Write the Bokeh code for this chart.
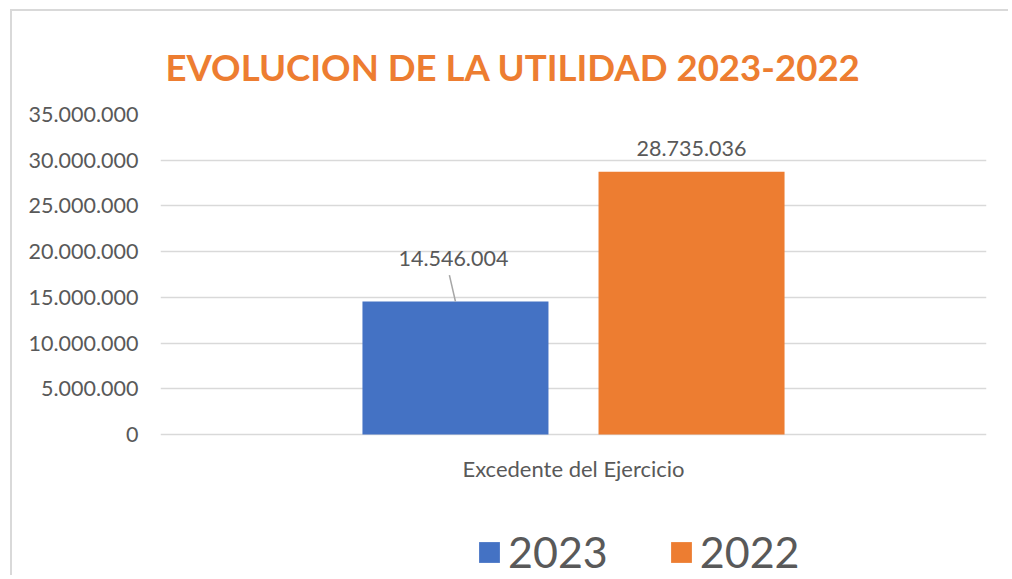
from bokeh.plotting import figure
from bokeh.models import (FactorRange, Range1d, FixedTicker, Legend, LegendItem,
                          ColumnDataSource, Title)
from bokeh.transform import dodge
from bokeh.core.properties import value
from bokeh.embed import file_html
from bokeh.resources import INLINE

# ---- data ----
categories = ["Excedente del Ejercicio"]
series_names = ["2023", "2022"]
values_2023 = [14546004]
values_2022 = [28735036]
y_ticks = [0, 5000000, 10000000, 15000000, 20000000, 25000000, 30000000, 35000000]
title_text = "EVOLUCION DE LA UTILIDAD 2023-2022"


def fmt(v):
    return f"{v:,}".replace(",", ".")


BLUE = "#4472C4"
ORANGE = "#ED7D31"
GREY_TXT = "#595959"
GRID = "#D9D9D9"
FONT = "Lato"

W, H = 998, 566
# plot area: value axis 0..35M spans 320 px; frame continues 143 px below zero
Y_TOP = y_ticks[-1]
Y_BOTTOM = -Y_TOP * 143 / 320

p = figure(width=W, height=H,
           x_range=FactorRange(factors=categories, range_padding=0),
           y_range=Range1d(Y_BOTTOM, Y_TOP),
           output_backend="svg", toolbar_location=None,
           min_border_left=148, min_border_right=24,
           min_border_top=103, min_border_bottom=0)
p.margin = (9, 0, 0, 10)
p.styles = {"border-left": f"2px solid {GRID}", "border-top": f"2px solid {GRID}"}
p.outline_line_color = None
p.background_fill_color = "white"
p.border_fill_color = "white"

src23 = ColumnDataSource(dict(cat=categories, val=values_2023,
                              label=[fmt(v) for v in values_2023]))
src22 = ColumnDataSource(dict(cat=categories, val=values_2022,
                              label=[fmt(v) for v in values_2022]))

OFF = 0.1429
BW = 0.2252
r23 = p.vbar(x=dodge("cat", -OFF, range=p.x_range), top="val", bottom=0,
             width=BW, source=src23, fill_color=BLUE, line_color=None)
r22 = p.vbar(x=dodge("cat", OFF, range=p.x_range), top="val", bottom=0,
             width=BW, source=src22, fill_color=ORANGE, line_color=None)

# leader line for the 2023 label
p.ray(x=dodge("cat", -OFF, range=p.x_range), y="val", source=src23,
      length=27, length_units="screen", angle=103, angle_units="deg",
      line_color="#A6A6A6", line_width=1.5)

p.text(x=dodge("cat", -OFF - 0.0025, range=p.x_range), y="val", text="label",
       source=src23, y_offset=-43, text_align="center", text_baseline="middle",
       text_font=value(FONT), text_font_size="21.5px", text_color=GREY_TXT)
p.text(x=dodge("cat", OFF, range=p.x_range), y="val", text="label",
       source=src22, y_offset=-23, text_align="center", text_baseline="middle",
       text_font=value(FONT), text_font_size="21.5px", text_color=GREY_TXT)

# axes
p.yaxis.ticker = FixedTicker(ticks=y_ticks)
p.yaxis.major_label_overrides = {t: fmt(t) for t in y_ticks}
p.yaxis.axis_line_color = None
p.yaxis.major_tick_line_color = None
p.yaxis.minor_tick_line_color = None
p.yaxis.major_tick_out = 0
p.yaxis.major_label_standoff = 22
p.yaxis.major_label_text_font = FONT
p.yaxis.major_label_text_font_size = "21.5px"
p.yaxis.major_label_text_color = GREY_TXT

p.xaxis.fixed_location = 0
p.xaxis.axis_line_color = None
p.xaxis.major_tick_line_color = None
p.xaxis.minor_tick_line_color = None
p.xaxis.major_tick_out = 0
p.xaxis.major_label_standoff = 20
p.xaxis.major_label_text_font = FONT
p.xaxis.major_label_text_font_size = "22px"
p.xaxis.major_label_text_color = GREY_TXT

p.xgrid.grid_line_color = None
p.ygrid.grid_line_color = GRID
p.ygrid.grid_line_width = 1.5

# title
p.title = Title(text=title_text, align="left", text_font=FONT,
                text_font_size="36.6px", text_font_style="bold",
                text_color=ORANGE, offset=5, standoff=52)

# legend
legend = Legend(items=[LegendItem(label=series_names[0], renderers=[r23]),
                       LegendItem(label=series_names[1], renderers=[r22])],
                orientation="horizontal", location=(316, 0),
                glyph_width=26, glyph_height=26, label_standoff=6, spacing=60,
                padding=0, margin=0, border_line_alpha=0,
                background_fill_alpha=0,
                label_text_font=FONT, label_text_font_size="43px",
                label_text_color=GREY_TXT)
p.add_layout(legend, "center")

open("out.html", "w").write(file_html(p, INLINE))
